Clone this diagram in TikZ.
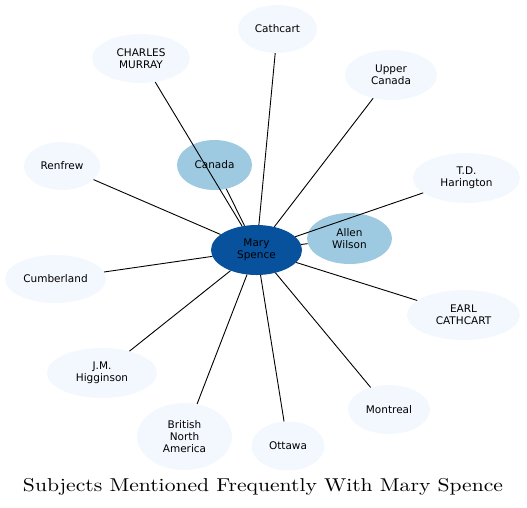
\documentclass[tikz,border=0pt]{standalone}
\usepackage{fontspec}
\setsansfont{DejaVu Sans}
\usepackage{tikz}
\usetikzlibrary{shapes.geometric}
\definecolor{msDark}{HTML}{08519C}
\definecolor{msMid}{HTML}{9ECAE1}
\definecolor{msLight}{HTML}{F3F8FE}
\tikzset{
    base/.style={font=\sffamily\fontsize{10.5}{11.7}\selectfont, align=center},
    subject/.style={base, ellipse, inner sep=0pt, fill=msLight, text=black},
    close/.style={subject, fill=msMid},
    hub/.style={subject, fill=msDark},
    link/.style={black, line width=0.9pt}
}
\begin{document}
\begin{tikzpicture}[x=1pt, y=-1pt]
  \useasboundingbox (0,0) rectangle (527,507);
  % Centre
  \node[hub, minimum width=91, minimum height=50] (mary) at (256.5,250) {Mary\\Spence};
  % Strong links
  \node[close, minimum width=75, minimum height=50] (canada) at (214.5,165) {Canada};
  \node[close, minimum width=85, minimum height=51] (allen) at (349.5,238.5) {Allen\\Wilson};
  % Other subjects
  \node[subject, minimum width=79, minimum height=48] (cathcart) at (277.5,29) {Cathcart};
  \node[subject, minimum width=98, minimum height=49] (murray) at (141,58.5) {CHARLES\\MURRAY};
  \node[subject, minimum width=92, minimum height=50] (upper) at (391,75) {Upper\\Canada};
  \node[subject, minimum width=76, minimum height=48] (renfrew) at (62,166) {Renfrew};
  \node[subject, minimum width=107, minimum height=50] (harington) at (466.5,178) {T.D.\\Harington};
  \node[subject, minimum width=101, minimum height=48] (cumberland) at (55.5,279) {Cumberland};
  \node[subject, minimum width=113, minimum height=50] (earl) at (463.5,315) {EARL\\CATHCART};
  \node[subject, minimum width=110, minimum height=50] (higginson) at (102,373) {J.M.\\Higginson};
  \node[subject, minimum width=82, minimum height=49] (montreal) at (389,409.5) {Montreal};
  \node[subject, minimum width=95, minimum height=67] (bna) at (184.5,436.5) {British\\North\\America};
  \node[subject, minimum width=73, minimum height=49] (ottawa) at (288,446) {Ottawa};
  % Edges
  \foreach \other in {canada,allen,cathcart,murray,upper,renfrew,harington,
                      cumberland,earl,higginson,montreal,bna,ottawa}
    \draw[link] (mary) -- (\other);
  % Title
  \node[font=\fontsize{10}{12}\selectfont, xscale=2.16, yscale=1.86, anchor=base] (title) at (263,491) {Subjects Mentioned Frequently With Mary Spence};
\end{tikzpicture}
\end{document}
